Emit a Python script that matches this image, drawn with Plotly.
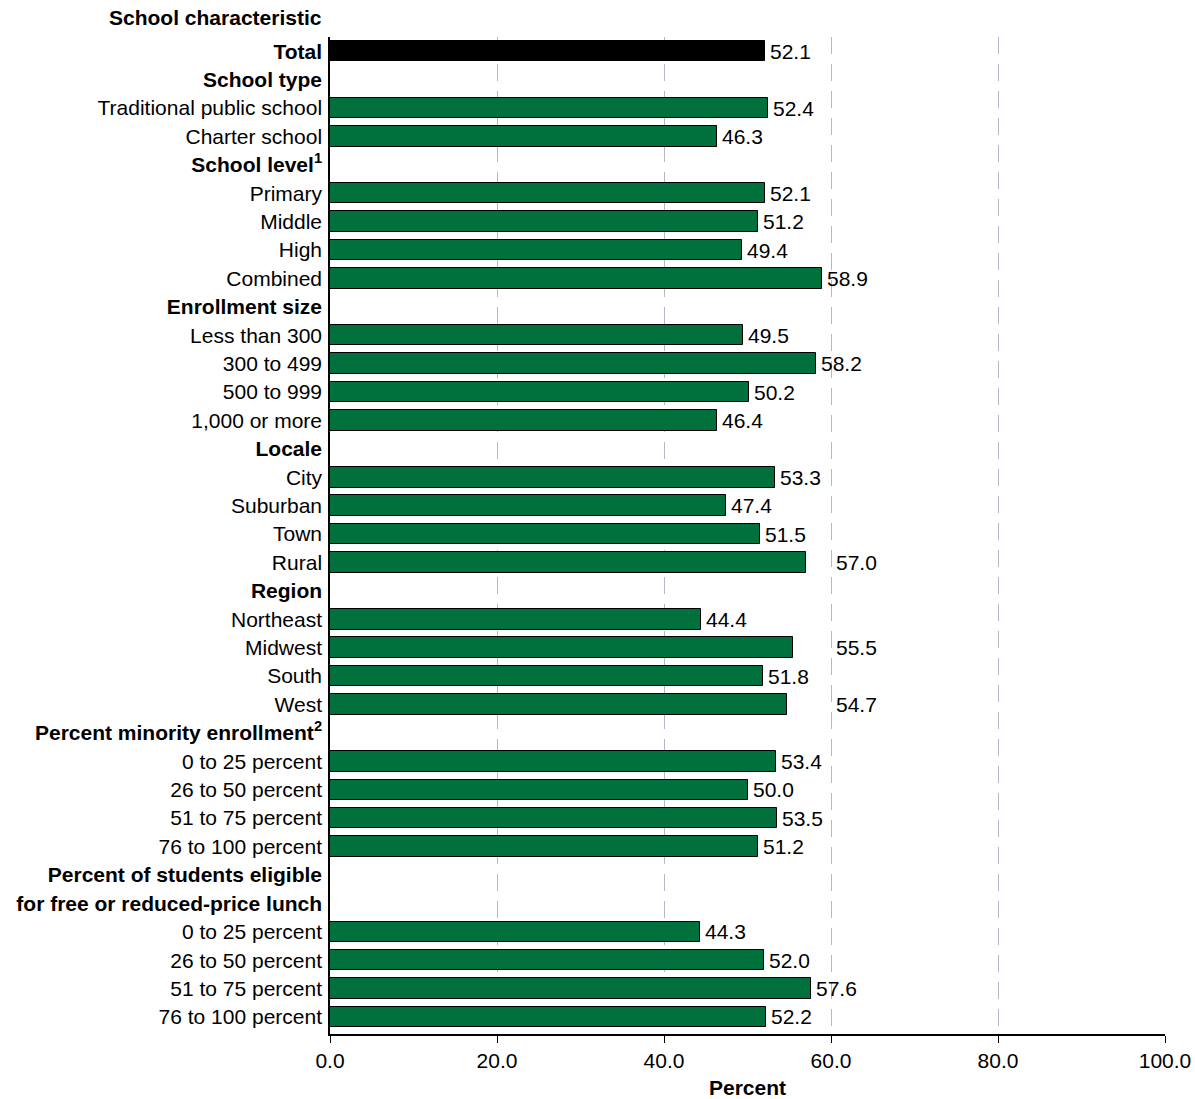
import plotly.graph_objects as go

# ---- data ----
labels = [
    "<b>Total</b>",
    "<b>School type</b>",
    "Traditional public school",
    "Charter school",
    "<b>School level<sup>1</sup></b>",
    "Primary",
    "Middle",
    "High",
    "Combined",
    "<b>Enrollment size</b>",
    "Less than 300",
    "300 to 499",
    "500 to 999",
    "1,000 or more",
    "<b>Locale</b>",
    "City",
    "Suburban",
    "Town",
    "Rural",
    "<b>Region</b>",
    "Northeast",
    "Midwest",
    "South",
    "West",
    "<b>Percent minority enrollment<sup>2</sup></b>",
    "0 to 25 percent",
    "26 to 50 percent",
    "51 to 75 percent",
    "76 to 100 percent",
    "<b>Percent of students eligible</b>",
    "<b>for free or reduced-price lunch</b>",
    "0 to 25 percent",
    "26 to 50 percent",
    "51 to 75 percent",
    "76 to 100 percent",
]
values = [
    52.1,
    None, 52.4, 46.3,
    None, 52.1, 51.2, 49.4, 58.9,
    None, 49.5, 58.2, 50.2, 46.4,
    None, 53.3, 47.4, 51.5, 57.0,
    None, 44.4, 55.5, 51.8, 54.7,
    None, 53.4, 50.0, 53.5, 51.2,
    None, None, 44.3, 52.0, 57.6, 52.2,
]
x_ticks = [0, 20, 40, 60, 80, 100]

FONT = "Liberation Sans, Arial, sans-serif"
FS = 21
GREEN = "#00703c"

pos = list(range(len(labels)))
colors = ["#000000" if i == 0 else GREEN for i in pos]

fig = go.Figure()
fig.add_trace(go.Bar(
    x=values, y=pos, orientation="h",
    marker=dict(color=colors, line=dict(color="#000000", width=1)),
    width=0.72, hoverinfo="skip",
))

annotations = []
for i, v in zip(pos, values):
    if v is None:
        continue
    ax = 60 if 54.5 <= v < 57.5 else v
    annotations.append(dict(
        x=ax, y=i, xref="x", yref="y", text=f"{v:.1f}",
        showarrow=False, xanchor="left", yanchor="middle", xshift=3,
        font=dict(family=FONT, size=FS, color="#000000"),
    ))
annotations.append(dict(
    x=0, y=1, xref="paper", yref="paper", text="<b>School characteristic</b>",
    showarrow=False, xanchor="right", yanchor="bottom", xshift=-6, yshift=6,
    font=dict(family=FONT, size=FS, color="#000000"),
))

fig.update_layout(
    width=1195, height=1099,
    margin=dict(l=330, r=30, t=37, b=65),
    plot_bgcolor="white", paper_bgcolor="white",
    showlegend=False,
    font=dict(family=FONT, size=FS, color="#000000"),
    annotations=annotations,
    bargap=0,
)
fig.update_xaxes(
    range=[0, 100], tickvals=x_ticks, tickformat=".1f",
    showgrid=True, gridcolor="#b6b6c8", gridwidth=1, griddash="17px,10px",
    zeroline=False, showline=True, linecolor="#000000", linewidth=1.5,
    ticks="outside", ticklen=7, tickcolor="#000000",
    title=dict(text="<b>Percent</b>", font=dict(family=FONT, size=FS), standoff=12),
    tickfont=dict(family=FONT, size=FS),
    automargin=False,
)
fig.update_yaxes(
    range=[len(labels) - 0.4, -0.5], tickvals=pos, ticktext=labels,
    showgrid=False, zeroline=False, showline=True, linecolor="#000000", linewidth=1.5,
    ticks="", ticklabelstandoff=2,
    tickfont=dict(family=FONT, size=FS),
    automargin=False,
)

fig.write_html(
    "out.html",
    config={"displayModeBar": False},
    post_script="document.body.style.margin='0px';document.body.style.overflow='hidden';",
)
